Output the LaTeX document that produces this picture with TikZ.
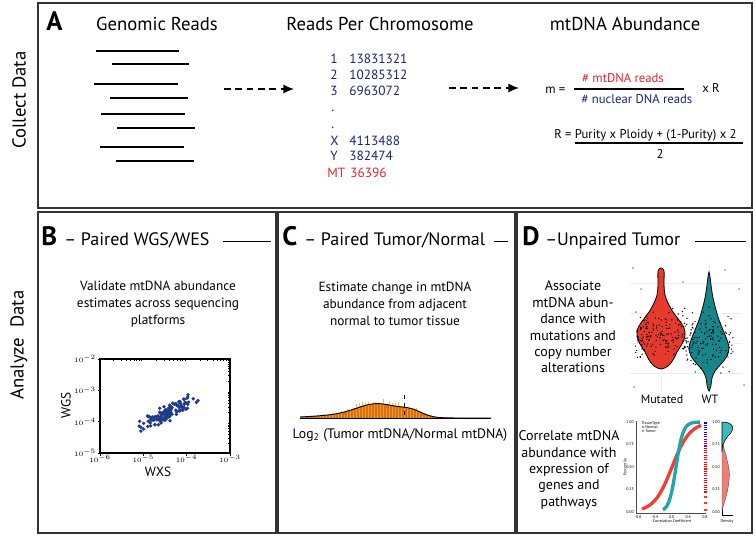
\documentclass[tikz,border=0pt]{standalone}
\usepackage{fontspec}
\setmainfont{PT Sans}
\usetikzlibrary{arrows.meta,calc,positioning}
\definecolor{framegray}{HTML}{333333}
\definecolor{navy}{HTML}{1B2470}
\definecolor{hotred}{HTML}{E3262B}
\definecolor{dotblue}{HTML}{1F3C88}
\definecolor{orangedk}{HTML}{D86F10}
\definecolor{orangelt}{HTML}{F4A640}
\definecolor{violred}{HTML}{E53A2C}
\definecolor{violteal}{HTML}{18848C}
\definecolor{cdfred}{HTML}{EE4035}
\definecolor{cdfteal}{HTML}{20A6A6}
\definecolor{densteal}{HTML}{3DBABA}
\definecolor{densred}{HTML}{E98078}

\begin{document}
\begin{tikzpicture}[x=0.75pt,y=-0.75pt,
    frame/.style={draw=framegray,line width=2pt},
    read/.style={line width=0.9pt},
    flow/.style={-{Latex[length=8pt,width=7pt]},dash pattern=on 5pt off 3.5pt,line width=1.2pt},
    hline/.style={line width=0.6pt},
    side/.style={inner sep=0,font=\fontsize{14}{16}\selectfont},
    title/.style={inner sep=0,font=\fontsize{14}{16}\selectfont},
    letter/.style={inner sep=0,font=\fontsize{20}{22}\selectfont\bfseries},
    hdr/.style={inner sep=0,font=\fontsize{13.5}{15}\selectfont},
    chrom/.style={inner sep=0,text=navy,font=\fontsize{10}{12}\selectfont},
    frm/.style={inner sep=0,font=\fontsize{9.5}{11}\selectfont},
    body/.style={inner sep=0,align=center,font=\fontsize{10}{12.75}\selectfont},
    bodyd/.style={inner sep=0,align=center,font=\fontsize{10.5}{12.3}\selectfont},
    axlab/.style={inner sep=0,font=\fontsize{10}{12}\selectfont},
    tiny/.style={inner sep=0,font=\fontsize{3}{3.5}\selectfont},
    declare function={dens(\x)=14*exp(-((\x-378)/22)^2/2)+5*exp(-((\x-412)/11)^2/2)+2*exp(-((\x-330)/25)^2/2);}
  ]
  \useasboundingbox (0,0) rectangle (756,536);

  % panels
  \draw[frame] (38,3) rectangle (752,208);
  \draw[frame] (38,212) rectangle (276,533);
  \draw[frame] (278,212) rectangle (515,533);
  \draw[frame] (517,212) rectangle (752,533);

  \node[side,rotate=90] (collect) at (19,100) {Collect Data};
  \node[side,rotate=90] (analyze) at (19,345) {Analyze~ Data};

  % A - collect data
  \node[letter,anchor=base west] (la) at (46,30) {A};
  \node[title,anchor=base] (genreads) at (157,30) {Genomic Reads};
  \node[title,anchor=base] (perchr) at (380,30) {Reads Per Chromosome};
  \node[title,anchor=base] (abund) at (625,30) {mtDNA Abundance};

  \foreach \a/\b/\y in {96/179/51,112/189/64,94/178/84,110/188/98,101/185/114,117/195/128,100/184/147,116/194/161}
    \draw[read] (\a,\y) -- (\b,\y); % reads

  \foreach \c/\v/\y [count=\i] in {1/13831321/63,2/10285312/79,3/6963072/95,X/4113488/145,Y/382474/160}{
    \node[chrom,anchor=base west] (c\i) at (330,\y) {\c};
    \node[chrom,anchor=base west] (v\i) at (349,\y) {\v};
  }
  \node[chrom,anchor=base west] (dot1) at (331,111) {.};
  \node[chrom,anchor=base west] (dot2) at (331,128) {.};
  \node[chrom,text=hotred,anchor=base west] (cmt) at (327,177) {MT};
  \node[chrom,text=hotred,anchor=base west] (vmt) at (350,177) {36396};

  \coordinate (f1s) at (224,89);
  \coordinate (f1e) at (294,89);
  \coordinate (f2s) at (449,88);
  \coordinate (f2e) at (519,88);
  \draw[flow] (f1s) -- (f1e);
  \draw[flow] (f2s) -- (f2e);

  \node[frm,anchor=base west] (meq) at (545,93) {m =};
  \node[frm,text=hotred,anchor=base] (num) at (623,82) {\# mtDNA reads};
  \draw[line width=0.9pt] (574,89) -- (684,89);
  \node[frm,text=navy,anchor=base] (den) at (637,103) {\# nuclear DNA reads};
  \node[frm,anchor=base west] (xr) at (702,92) {x R};
  \node[frm,anchor=base west] (rdef) at (554,138) {R = Purity x Ploidy + (1-Purity) x 2};
  \draw[line width=0.9pt] (575,143) -- (743,143);
  \node[frm,anchor=base] (two) at (660,158) {2};

  % B - paired WGS/WES
  \node[letter,anchor=base west] (lb) at (41,245) {B};
  \node[hdr,anchor=base west] (hb) at (64,245) {-- Paired WGS/WES};
  \draw[hline] (223,241) -- (271,241);
  \node[body] (tb) at (158,304) {Validate mtDNA abundance\\estimates across sequencing\\platforms};

  \draw[line width=0.8pt] (100,359) rectangle (230,453);
  \foreach \d in {0,1,2,3}{
    \draw[line width=0.5pt] (100+43.33*\d,453) -- ++(0,2.5);
    \draw[line width=0.5pt] (100,453-31.33*\d) -- ++(-2.5,0);
  }
  \foreach \d in {0,1,2}{
    \foreach \k in {2,...,9}{
      \draw[line width=0.2pt] ({100+43.33*(\d+log10(\k))},359) -- ++(0,2);
      \draw[line width=0.2pt] (230,{453-31.33*(\d+log10(\k))}) -- ++(-2,0);
    }
  }
  \foreach \e [count=\j from 0] in {-6,-5,-4,-3}
    \node[tiny] at (100+43.33*\j,459) {$10^{\e}$};
  \foreach \e [count=\j from 0] in {-5,-4,-3,-2}
    \node[tiny,anchor=east] at (96,453-31.33*\j) {$10^{\e}$};
  \pgfmathsetseed{7}
  \foreach \i in {1,...,130}{
    \pgfmathsetmacro\lx{-4.45+0.3*(rand+rand+rand)}
    \pgfmathsetmacro\ly{-3.75+0.68*(\lx+4.45)+0.12*(rand+rand+rand)}
    \fill[dotblue] ({100+43.33*(\lx+6)},{453-31.33*(\ly+5)}) circle (1.4pt);
  }
  \node[axlab,rotate=90] (wgs) at (66,405) {WGS};
  \node[axlab] (wxs) at (158,472) {WXS};

  % C - paired tumor/normal
  \node[letter,anchor=base west] (lc) at (282,245) {C};
  \node[hdr,anchor=base west] (hc) at (304,245) {-- Paired Tumor/Normal};
  \draw[hline] (494,241) -- (508,241);
  \node[body] (tc) at (395,304) {Estimate change in mtDNA\\abundance from adjacent\\normal to tumor tissue};

  \fill[orangedk] (300,418) -- plot[domain=300:491,samples=120] (\x,{418-dens(\x)}) -- (491,418) -- cycle;
  \pgfmathsetseed{3}
  \foreach \x in {320,323,...,460}{
    \pgfmathsetmacro\h{dens(\x)*(0.5+0.9*rnd)+0.8*rnd}
    \draw[orangelt,opacity=0.8,line width=0.7pt] (\x,418) -- ++(0,-\h);
  }
  \draw[line width=0.7pt] plot[domain=300:491,samples=120] (\x,{418-dens(\x)});
  \draw[line width=0.7pt] (300,418) -- (491,418);
  \draw[dashed,line width=0.5pt] (404,395) -- (404,418);
  \node[axlab,font=\fontsize{10.3}{12}\selectfont] (logr) at (400,435) {Log\textsubscript{2} (Tumor mtDNA/Normal mtDNA)};

  % D - unpaired tumor
  \node[letter,anchor=base west] (ld) at (522,245) {D};
  \node[hdr,anchor=base west] (hd) at (545,245) {--Unpaired Tumor};
  \draw[hline] (695,241) -- (746,241);
  \node[bodyd] (td1) at (573,327) {Associate\\mtDNA abun-\\dance with\\mutations and\\copy number\\alterations};
  \node[bodyd] (td2) at (569,470) {Correlate mtDNA\\abundance with\\expression of\\genes and\\pathways};

  \foreach \y in {283,313,343,373}
    \draw[black!7,line width=0.4pt] (630,\y) -- (742,\y);
  \draw[black!7,line width=0.4pt] (661,262) -- (661,392);
  \draw[black!7,line width=0.4pt] (709,262) -- (709,392);
  \filldraw[fill=violred,draw=black,line width=0.6pt] plot[smooth cycle,tension=0.55] coordinates {
    (661,268) (664,271) (664,285) (665,295) (668,303) (673,312) (679,320) (684,328) (685,336)
    (682,344) (677,352) (673,360) (668,366) (661,369) (654,366) (649,360) (645,352) (640,344)
    (637,336) (638,328) (643,320) (649,312) (654,303) (657,295) (658,285) (658,271)};
  \filldraw[fill=violteal,draw=black,line width=0.6pt] plot[smooth cycle,tension=0.55] coordinates {
    (709,272) (710,277) (711,285) (713,298) (716,310) (719,320) (723,330) (727,340) (729,348)
    (727,356) (721,364) (715,371) (712,378) (711,385) (709,391) (707,385) (706,378) (703,371)
    (697,364) (691,356) (689,348) (691,340) (695,330) (699,320) (702,310) (705,298) (707,285) (708,277)};
  \pgfmathsetseed{21}
  \foreach \i in {1,...,170}
    \fill ({661+26*rand},{333+11*(rand+rand+rand)}) circle (0.55pt);
  \foreach \i in {1,...,140}
    \fill ({709+24*rand},{340+14*(rand+rand+rand)}) circle (0.55pt);
  \foreach \p in {(633,268),(641,289),(683,282),(634,387),(725,270),(739,289),(744,385)}
    \fill \p circle (0.55pt);
  \node[axlab,font=\fontsize{9}{11}\selectfont] (mut) at (662,399) {Mutated};
  \node[axlab,font=\fontsize{9}{11}\selectfont] (wt) at (710,399) {WT};

  % cdf of correlations
  \draw[black!70,line width=0.3pt] (636,421) -- (636,513) -- (706,513);
  \foreach \t [count=\j from 0] in {0.00,0.25,0.50,0.75,1.00}
    \node[tiny,anchor=east] at (634,512-22.5*\j) {\t};
  \foreach \t [count=\j from 0] in {-0.8,-0.4,0.0,0.4,0.8}
    \node[tiny] at (638+16.75*\j,517) {\t};
  \node[tiny] (cc) at (672,521) {Correlation Coefficient};
  \node[tiny,rotate=90] (pct) at (625,467) {Percentile};
  \node[tiny,anchor=west] (leg) at (641,423) {TissueType};
  \fill[cdfred] (643,427) circle (0.8pt) node[tiny,anchor=west,text=black] at (645,427) {Normal};
  \fill[cdfteal] (643,431) circle (0.8pt) node[tiny,anchor=west,text=black] at (645,431) {Tumor};
  \foreach \k in {0,...,30}{
    \pgfmathsetmacro\m{max(0,100-\k*7)}
    \draw[blue!\m!red,line width=0.8pt] (703.5,423+2.3*\k) -- ++(3,0);
  }
  \foreach \y in {497,503,510}
    \draw[red!80,line width=0.8pt] (703.5,\y) -- ++(3,0);
  \draw[cdfred,line width=2.5pt] plot[domain=642:701,samples=60] (\x,{512-90/(1+exp(-(\x-672)/9))});
  \draw[cdfteal,line width=2.5pt] plot[domain=663:700,samples=60] (\x,{512-90/(1+exp(-(\x-676)/3.5))});

  % density
  \draw[line width=0.5pt] (722,422) -- (722,515) -- (733,515);
  \foreach \t [count=\j from 0] in {0.00,0.25,0.50,0.75,1.00}
    \node[tiny,anchor=east] at (720,512-22.5*\j) {\t};
  \filldraw[fill=densred,draw=black!70,line width=0.3pt] (722,440) .. controls (725,455) and (731,468) .. (729,480) .. controls (728,494) and (723,505) .. (722,511) -- cycle;
  \filldraw[fill=densteal,draw=black,line width=0.4pt] (722,422) .. controls (735,422) and (735,430) .. (728,436) .. controls (724,441) and (722,446) .. (722,452) -- cycle;
  \node[tiny] (dlab) at (727,521) {Density};
\end{tikzpicture}
\end{document}
